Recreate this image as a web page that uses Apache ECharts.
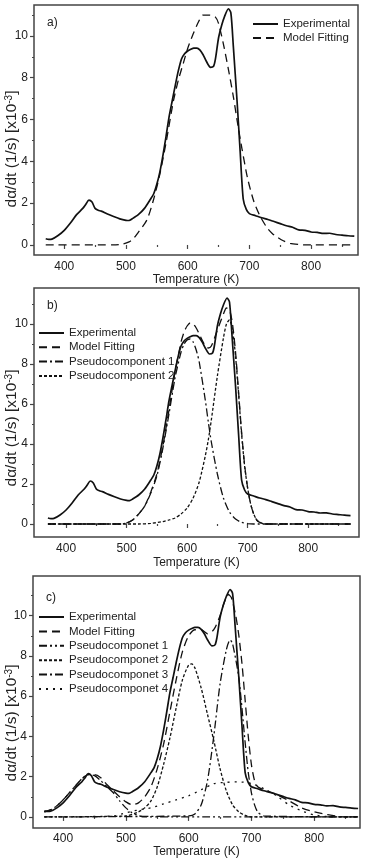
<!DOCTYPE html>
<html>
<head>
<meta charset="utf-8">
<script src="https://cdn.jsdelivr.net/npm/echarts@6.0.0/dist/echarts.min.js"></script>
<style>
  html, body { margin: 0; padding: 0; background: #fff; }
  #chart { width: 370px; height: 863px; }
</style>
</head>
<body>
<div id="chart"></div>
<script>
// experimental DTG curve, same in all three panels
const expT = [370, 375, 380, 390, 400, 410, 420, 430, 435, 440, 445, 450, 455, 460, 470, 480, 490, 500, 505, 510,
  520, 530, 540, 545, 550, 555, 560, 565, 570, 575, 580, 585, 590, 595, 600, 605, 610, 615, 620, 625,
  630, 637, 642, 645, 650, 655, 660, 666, 670, 674, 677, 680, 685, 690, 695, 700, 710, 720, 730, 740,
  750, 760, 770, 780, 790, 800, 810, 820, 830, 840, 850, 860, 870]
const expV = [0.30, 0.27, 0.28, 0.45, 0.70, 1.05, 1.45, 1.75, 1.95, 2.15, 2.05, 1.75, 1.66, 1.62, 1.48, 1.36, 1.25, 1.18, 1.17, 1.25,
  1.45, 1.75, 2.20, 2.45, 2.90, 3.50, 4.30, 5.20, 6.15, 6.90, 7.65, 8.35, 8.90, 9.15, 9.28, 9.36, 9.42, 9.42, 9.32, 9.10,
  8.80, 8.50, 8.55, 8.90, 9.90, 10.50, 10.95, 11.30, 11.10, 9.50, 8.20, 6.90, 4.50, 2.20, 1.70, 1.50, 1.40, 1.30, 1.22, 1.12,
  1.02, 0.92, 0.85, 0.72, 0.70, 0.62, 0.60, 0.55, 0.56, 0.50, 0.47, 0.44, 0.42]

// a) single model fit
const fitAT = [370, 480, 495, 505, 512, 520, 534, 545, 555, 565, 577, 585, 593, 600, 609, 618, 625, 636, 645, 650,
  658, 666, 674, 681, 688, 697, 707, 717, 728, 737, 745, 755, 766, 780, 790, 870]
const fitAV = [0, 0, 0.05, 0.15, 0.3, 0.6, 1.2, 2.2, 3.4, 4.9, 6.9, 7.9, 8.7, 9.4, 10.1, 10.7, 11.0, 11.0, 10.9, 10.6,
  9.6, 8.4, 7.1, 5.8, 4.6, 3.2, 2.1, 1.4, 0.85, 0.55, 0.38, 0.2, 0.08, 0.02, 0, 0]

// b) two pseudocomponents
const fitBT = [370, 490, 500, 510, 520, 530, 540, 550, 560, 570, 580, 590, 595, 600, 605, 610, 615, 620, 630, 635,
  640, 650, 660, 665, 670, 675, 680, 685, 690, 695, 700, 705, 710, 715, 720, 730, 870]
const fitBV = [0, 0, 0.05, 0.2, 0.5, 0.9, 1.6, 2.5, 3.9, 5.7, 7.6, 9.1, 9.6, 9.9, 10.05, 10.0, 9.8, 9.5, 8.9, 8.8,
  8.9, 9.7, 10.5, 10.8, 10.7, 10.0, 8.6, 6.6, 4.6, 2.95, 1.8, 1.0, 0.5, 0.2, 0.08, 0, 0]
const pc1BT = [370, 490, 500, 510, 520, 530, 540, 550, 560, 570, 580, 590, 595, 600, 605, 610, 615, 620, 630, 635,
  640, 650, 660, 670, 680, 690, 700, 710, 870]
const pc1BV = [0, 0, 0.05, 0.2, 0.5, 0.9, 1.55, 2.4, 3.8, 5.5, 7.3, 8.6, 9.0, 9.2, 9.25, 9.1, 8.7, 8.1, 6.2, 5.1,
  4.1, 2.5, 1.3, 0.6, 0.25, 0.08, 0.02, 0, 0]
const pc2BT = [370, 520, 540, 560, 570, 580, 590, 600, 610, 620, 630, 635, 640, 650, 660, 665, 670, 675, 680, 685,
  690, 695, 700, 705, 710, 715, 720, 730, 870]
const pc2BV = [0, 0, 0.03, 0.12, 0.2, 0.3, 0.5, 0.8, 1.3, 2.1, 3.4, 4.2, 5.2, 7.4, 9.3, 10.0, 10.2, 9.7, 8.4, 6.5,
  4.5, 2.9, 1.8, 1.0, 0.5, 0.2, 0.08, 0, 0]

// c) four pseudocomponents
const fitCT = [370, 380, 390, 400, 410, 420, 430, 440, 450, 460, 470, 480, 490, 500, 510, 520, 530, 540, 550, 560,
  570, 580, 590, 600, 610, 620, 630, 640, 650, 655, 660, 663, 668, 675, 680, 685, 690, 695, 700, 705,
  710, 720, 740, 760, 780, 800, 820, 840, 870]
const fitCV = [0.25, 0.35, 0.55, 0.85, 1.2, 1.55, 1.9, 2.1, 2.1, 1.95, 1.6, 1.3, 1.0, 0.75, 0.6, 0.7, 1.0, 1.5, 2.4, 3.6,
  5.2, 6.8, 8.2, 9.0, 9.3, 9.3, 9.1, 9.3, 10.0, 10.5, 10.9, 11.05, 10.9, 10.0, 9.0, 7.6, 5.8, 4.0, 2.6, 1.8,
  1.5, 1.35, 1.12, 0.8, 0.45, 0.25, 0.12, 0.02, 0]
const pc1CT = [370, 380, 390, 400, 410, 420, 430, 440, 450, 460, 470, 480, 490, 500, 510, 520, 530, 870]
const pc1CV = [0.25, 0.35, 0.55, 0.85, 1.2, 1.55, 1.9, 2.1, 2.05, 1.8, 1.5, 1.2, 0.8, 0.45, 0.2, 0.07, 0, 0]
const pc2CT = [370, 500, 520, 530, 540, 550, 560, 570, 580, 590, 600, 605, 610, 620, 630, 640, 650, 660, 670, 680,
  690, 700, 870]
const pc2CV = [0, 0.05, 0.25, 0.45, 0.8, 1.5, 2.6, 3.9, 5.4, 6.8, 7.55, 7.6, 7.4, 6.4, 5.1, 3.8, 2.4, 1.3, 0.6, 0.25,
  0.08, 0, 0]
const pc3CT = [370, 600, 610, 620, 630, 640, 650, 660, 666, 670, 680, 690, 695, 700, 705, 710, 720, 870]
const pc3CV = [0, 0.05, 0.15, 0.6, 1.8, 4.0, 6.6, 8.3, 8.8, 8.6, 6.9, 3.7, 2.2, 1.2, 0.6, 0.25, 0.05, 0]
const pc4CT = [370, 480, 500, 520, 540, 560, 580, 600, 620, 640, 660, 680, 700, 720, 740, 760, 780, 800, 820, 840, 870]
const pc4CV = [0, 0.05, 0.2, 0.35, 0.45, 0.65, 0.85, 1.05, 1.35, 1.65, 1.72, 1.74, 1.66, 1.4, 1.05, 0.6, 0.3, 0.1, 0.02, 0, 0]

const xMajor = [400, 500, 600, 700, 800]
const xMinor = [450, 550, 650, 750, 850]
const yMajor = [0, 2, 4, 6, 8, 10]
const yMinor = [1, 3, 5, 7, 9, 11]
const panelLabels = ['a)', 'b)', 'c)']
const yTitle = 'd\u03b1/dt (1/s) [x10{sup|-3}]'

const font = 'Liberation Sans, Arial, sans-serif'
const ink = '#111'
const txt = '#222'

// layout of the three panels
const grids = [
  { left: 34, top: 5, width: 324, height: 250 },
  { left: 34, top: 288, width: 325, height: 249 },
  { left: 33, top: 576, width: 327, height: 252 }
]
const xRange = [[351, 876], [347, 884], [352, 873]]
const yRange = [[-0.48, 11.48], [-0.65, 11.8], [-0.55, 11.97]]
const xNameGap = [18, 20, 17]
const xLabelMargin = [6, 6, 5]
const yTitleCenter = [149, 428, 723]

const dash = {
  solid: 'solid',
  fit: [8, 5],
  dashDot: [8, 3, 2, 3],
  dashDotDot: [8, 3, 2, 3, 2, 3],
  short: [3, 2],
  dots: [2, 5]
}

function pairs (t, v) {
  return t.map((x, i) => [x, v[i]])
}

function line (name, t, v, panel, type, width) {
  return {
    name: name,
    type: 'line',
    xAxisIndex: panel,
    yAxisIndex: panel,
    data: pairs(t, v),
    symbol: 'none',
    smooth: 0.25,
    animation: false,
    itemStyle: { color: ink },
    lineStyle: { color: ink, width: width || 1.3, type: type }
  }
}

const xAxes = []
const yAxes = []
grids.forEach((g, i) => {
  xAxes.push({
    type: 'value',
    gridIndex: i,
    min: xRange[i][0],
    max: xRange[i][1],
    position: 'bottom',
    name: 'Temperature (K)',
    nameLocation: 'middle',
    nameGap: xNameGap[i],
    nameTextStyle: { fontFamily: font, fontSize: 12, color: txt },
    axisLine: { show: false },
    splitLine: { show: false },
    axisTick: { show: true, inside: false, length: 4, customValues: xMajor, lineStyle: { color: '#444', width: 1.2 } },
    axisLabel: { customValues: xMajor, margin: xLabelMargin[i], fontFamily: font, fontSize: 12, color: txt }
  })
  yAxes.push({
    type: 'value',
    gridIndex: i,
    min: yRange[i][0],
    max: yRange[i][1],
    position: 'left',
    axisLine: { show: false },
    splitLine: { show: false },
    axisTick: { show: true, inside: false, length: 4, customValues: yMajor, lineStyle: { color: '#444', width: 1.2 } },
    axisLabel: { customValues: yMajor, margin: 6, fontFamily: font, fontSize: 12, color: txt }
  })
})
// minor ticks
grids.forEach((g, i) => {
  xAxes.push({
    type: 'value',
    gridIndex: i,
    min: xRange[i][0],
    max: xRange[i][1],
    position: 'bottom',
    axisLine: { show: false },
    splitLine: { show: false },
    axisLabel: { show: false },
    axisTick: { show: true, length: 2, customValues: xMinor, lineStyle: { color: '#444', width: 1.2 } }
  })
  yAxes.push({
    type: 'value',
    gridIndex: i,
    min: yRange[i][0],
    max: yRange[i][1],
    position: 'left',
    axisLine: { show: false },
    splitLine: { show: false },
    axisLabel: { show: false },
    axisTick: { show: true, length: 2, customValues: yMinor, lineStyle: { color: '#444', width: 1.2 } }
  })
})

const legendBase = {
  orient: 'vertical',
  padding: 0,
  itemWidth: 25,
  itemHeight: 8,
  selectedMode: false,
  itemStyle: { opacity: 0 },
  textStyle: { fontFamily: font, fontSize: 11.5, color: txt, lineHeight: 12 }
}

const option = {
  backgroundColor: '#fff',
  animation: false,
  title: panelLabels.map((t, i) => ({
    text: t,
    left: grids[i].left + 13,
    top: grids[i].top + (i === 2 ? 16 : 12),
    padding: 0,
    textStyle: { fontFamily: font, fontSize: 12, fontWeight: 'normal', color: txt }
  })),
  // rotated y-axis titles
  graphic: yTitleCenter.map(y => ({
    type: 'text',
    x: 12,
    y: y,
    rotation: Math.PI / 2,
    style: {
      text: yTitle,
      fontFamily: font,
      fontSize: 15.5,
      fill: txt,
      align: 'center',
      verticalAlign: 'middle',
      rich: { sup: { fontFamily: font, fontSize: 10, fill: txt, verticalAlign: 'top', lineHeight: 8 } }
    }
  })),
  grid: grids.map(g => Object.assign({ show: true, borderColor: '#444', borderWidth: 1.5, containLabel: false, outerBoundsMode: 'none' }, g)),
  legend: [
    Object.assign({}, legendBase, { left: 252, top: 18, itemGap: 2, data: ['Experimental', 'Model Fitting'] }),
    Object.assign({}, legendBase, { left: 38, top: 327, itemGap: 2.3, data: ['Experimental', 'Model Fitting', 'Pseudocomponent 1', 'Pseudocomponent 2'] }),
    Object.assign({}, legendBase, { left: 38, top: 611, itemGap: 2.4, data: ['Experimental', 'Model Fitting', 'Pseudocomponet 1', 'Pseudocomponet 2', 'Pseudocomponet 3', 'Pseudocomponet 4'] })
  ],
  xAxis: xAxes,
  yAxis: yAxes,
  series: [
    line('Experimental', expT, expV, 0, dash.solid, 1.7),
    line('Model Fitting', fitAT, fitAV, 0, dash.fit),
    line('Experimental', expT, expV, 1, dash.solid, 1.7),
    line('Model Fitting', fitBT, fitBV, 1, dash.fit),
    line('Pseudocomponent 1', pc1BT, pc1BV, 1, dash.dashDot),
    line('Pseudocomponent 2', pc2BT, pc2BV, 1, dash.short),
    line('Experimental', expT, expV, 2, dash.solid, 1.7),
    line('Model Fitting', fitCT, fitCV, 2, dash.fit),
    line('Pseudocomponet 1', pc1CT, pc1CV, 2, dash.dashDotDot),
    line('Pseudocomponet 2', pc2CT, pc2CV, 2, dash.short),
    line('Pseudocomponet 3', pc3CT, pc3CV, 2, dash.dashDot),
    line('Pseudocomponet 4', pc4CT, pc4CV, 2, dash.dots)
  ]
}

const chart = echarts.init(document.getElementById('chart'), null, { renderer: 'canvas' })
chart.setOption(option)
</script>
</body>
</html>
